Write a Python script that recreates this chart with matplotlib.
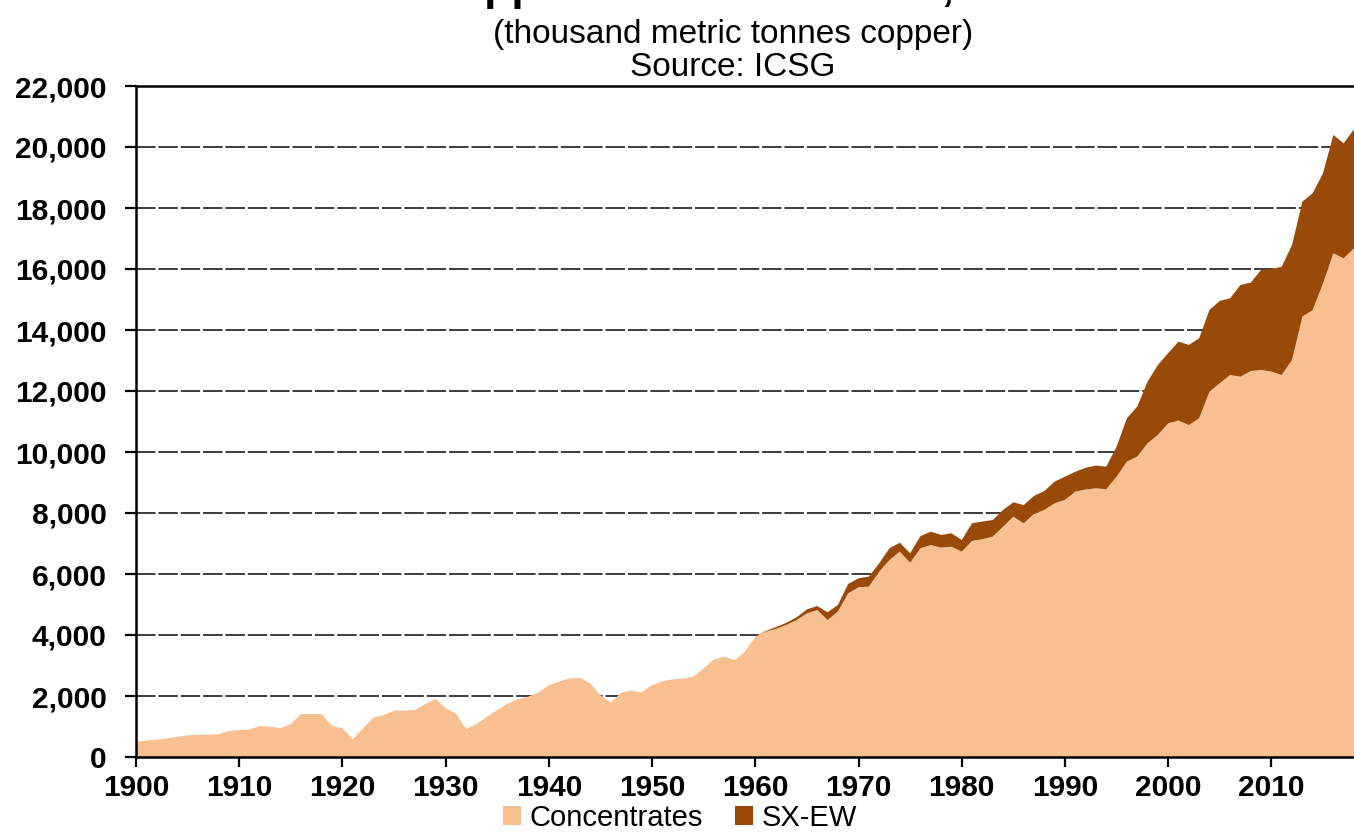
import numpy as np
import matplotlib
matplotlib.use("Agg")
import matplotlib.pyplot as plt
from matplotlib.patches import Patch
from matplotlib.ticker import FuncFormatter

plt.rcParams['font.family'] = ['Liberation Sans', 'DejaVu Sans']

# World copper mine production, thousand tonnes
years = np.arange(1900, 2019)

concentrates = [
    502, 540, 570, 610, 660, 710, 730, 735, 745, 850,        # 1900-1909
    885, 905, 1015, 995, 940, 1080, 1410, 1410, 1410, 1015,  # 1910-1919
    940, 580, 940, 1290, 1375, 1520, 1520, 1540, 1735, 1910, # 1920-1929
    1600, 1420, 920, 1080, 1320, 1540, 1750, 1890, 1980, 2120,   # 1930-1939
    2360, 2470, 2580, 2600, 2415, 2030, 1780, 2110, 2175, 2120,  # 1940-1949
    2360, 2480, 2545, 2570, 2635, 2905, 3200, 3290, 3180, 3455,  # 1950-1959
    3945, 4110, 4200, 4330, 4490, 4710, 4820, 4490, 4765, 5365,  # 1960-1969
    5565, 5585, 6075, 6460, 6735, 6370, 6845, 6950, 6865, 6895,  # 1970-1979
    6735, 7085, 7140, 7225, 7550, 7880, 7660, 7970, 8100, 8320,  # 1980-1989
    8430, 8700, 8770, 8810, 8780, 9190, 9685, 9850, 10285, 10560,    # 1990-1999
    10940, 11030, 10885, 11105, 11980, 12255, 12525, 12470, 12655, 12690,  # 2000-2009
    12635, 12525, 13020, 14440, 14655, 15530, 16515, 16350, 16680,   # 2010-2018
]

sx_ew = [0] * 61 + [
    20, 60, 70, 90, 130, 130, 255, 220, 310,            # 1961-1969
    295, 330, 275, 385, 290, 310, 400, 440, 415, 440,   # 1970-1979
    380, 580, 580, 545, 550, 470, 600, 590, 620, 710,   # 1980-1989
    760, 655, 710, 745, 740, 985, 1420, 1640, 2020, 2295,   # 1990-1999
    2300, 2590, 2625, 2625, 2680, 2700, 2515, 3005, 2900, 3280,  # 2000-2009
    3365, 3550, 3770, 3770, 3830, 3610, 3880, 3770, 3900,        # 2010-2018
]

series_names = ['Concentrates', 'SX-EW']
colors = ['#F8C090', '#994A08']

W, H = 1354, 834
fig = plt.figure(figsize=(W / 100, H / 100), dpi=100)
ax = fig.add_axes([136 / W, 77 / H, (W - 136) / W, (757 - 86) / H])

ax.stackplot(years, concentrates, sx_ew, colors=colors, linewidth=0, zorder=2)

ax.set_xlim(1900, 2018)
ax.set_ylim(0, 22000)
ax.set_xticks(np.arange(1900, 2011, 10))
ax.set_yticks(np.arange(0, 22001, 2000))
ax.yaxis.set_major_formatter(FuncFormatter(lambda v, p: f"{v:,.0f}"))

ax.set_axisbelow(True)
ax.yaxis.grid(True, color='#3c3c3c', linewidth=1.4, linestyle=(0, (10, 1.5)))
ax.xaxis.grid(False)

for side in ['left', 'top', 'bottom']:
    ax.spines[side].set_color('black')
    ax.spines[side].set_linewidth(1.8)
ax.spines['right'].set_visible(False)
ax.spines['left'].set_zorder(5)
ax.spines['bottom'].set_zorder(5)

ax.tick_params(axis='y', direction='out', length=8, width=1.6, pad=13,
               labelsize=21.5, colors='black')
ax.tick_params(axis='x', direction='out', length=7, width=1.6, pad=5,
               labelsize=21.5, colors='black')
for lbl in ax.get_xticklabels() + ax.get_yticklabels():
    lbl.set_fontweight('bold')

# headings (the main title is cut off by the top edge, as in the source image)
fig.text(733 / W, 1.0, 'World Copper Mine Production, 1900-2018',
         ha='center', va='baseline', fontsize=32, fontweight='bold')
fig.text(733 / W, 1 - 35 / H, '(thousand metric tonnes copper)',
         ha='center', va='center', fontsize=24)
fig.text(733 / W, 1 - 67 / H, 'Source: ICSG',
         ha='center', va='center', fontsize=24)

handles = [Patch(facecolor=c, edgecolor='none') for c in colors]
fig.legend(handles, series_names, loc='center', bbox_to_anchor=(680 / W, 16 / H),
           ncol=2, frameon=False, fontsize=21, handlelength=0.6, handleheight=0.6,
           handletextpad=0.3, columnspacing=1.1, borderpad=0.0)

fig.savefig('out.png', dpi=100)
